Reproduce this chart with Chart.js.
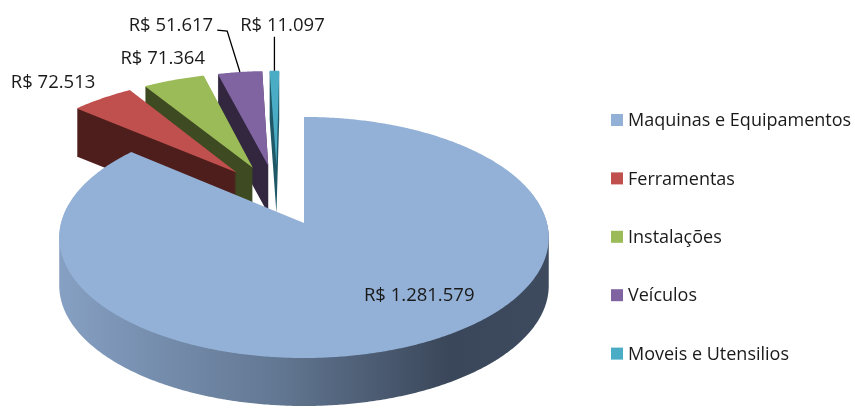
<!DOCTYPE html>
<html>
<head>
<meta charset="utf-8">
<script src="https://cdn.jsdelivr.net/npm/chart.js@4.4.0/dist/chart.umd.min.js"></script>
<style>
  html, body { margin: 0; padding: 0; background: #fff; }
  #chart { display: block; }
</style>
</head>
<body>
<canvas id="chart" width="855" height="408"></canvas>
<script>
const categories = ['Maquinas e Equipamentos', 'Ferramentas', 'Instalações', 'Veículos', 'Moveis e Utensilios'];
const values = [1281579, 72513, 71364, 51617, 11097];
const valueLabels = ['R$ 1.281.579', 'R$ 72.513', 'R$ 71.364', 'R$ 51.617', 'R$ 11.097'];
const topColors = ['#93B1D6', '#C0504D', '#9BBB59', '#8064A2', '#4BACC6'];
const sideColors = ['#5F7491', '#4E1E1D', '#3E4A22', '#32273F', '#1F5866'];

// 3D look: ellipse centre, radii, perspective, thickness and explosion
const view = { x0: 304, y0: 223, ax: 243, by: 118.8, persp: 0.12, depth: 48, explode: 0.27 };
// where each value label sits relative to the middle of its slice's outer edge
const labelShift = [[0, -48], [-49, -16], [-11, -21], [-69, -46], [8, -45]];
const leaders = [false, false, false, true, true];
const drawOrder = [4, 3, 2, 1, 0]; // back slices first

const labelFont = '18.5px "Open Sans"';
const legendFont = '18px "Open Sans"';
const textColor = '#1A1A1A';

let mainOff = { x: 0, y: 0 };

function project(u, v) {
    const du = u - mainOff.x;
    const dv = v - mainOff.y;
    const s = 1 / (1 - view.persp * dv);
    return [view.x0 + view.ax * du * s, view.y0 + view.by * dv * s];
}

function slicePoints(arc) {
    const mid = (arc.startAngle + arc.endAngle) / 2;
    const ox = Math.cos(mid) * view.explode;
    const oy = Math.sin(mid) * view.explode;
    const pts = [project(ox, oy)];
    const step = Math.PI / 360;
    const n = Math.max(2, Math.ceil((arc.endAngle - arc.startAngle) / step));
    for (let i = 0; i <= n; i++) {
        const a = arc.startAngle + (arc.endAngle - arc.startAngle) * i / n;
        pts.push(project(ox + Math.cos(a), oy + Math.sin(a)));
    }
    return pts;
}

function addPoly(ctx, pts, dy) {
    ctx.moveTo(pts[0][0], pts[0][1] + dy);
    for (let i = 1; i < pts.length; i++) ctx.lineTo(pts[i][0], pts[i][1] + dy);
    ctx.closePath();
}

const pie3d = {
    id: 'pie3d',
    beforeDatasetsDraw(chart) {
        const ctx = chart.ctx;
        const arcs = chart.getDatasetMeta(0).data;
        const m = (arcs[0].startAngle + arcs[0].endAngle) / 2;
        mainOff = { x: Math.cos(m) * view.explode, y: Math.sin(m) * view.explode };

        ctx.save();
        drawOrder.forEach(i => {
            const pts = slicePoints(arcs[i]);
            // side walls: union of the top face pushed down
            ctx.beginPath();
            for (let d = view.depth; d >= 1; d--) addPoly(ctx, pts, d);
            if (i === 0) {
                const xs = pts.map(p => p[0]);
                const g = ctx.createLinearGradient(Math.min(...xs), 0, Math.max(...xs), 0);
                g.addColorStop(0, '#86A0C3');
                g.addColorStop(0.45, '#627792');
                g.addColorStop(0.8, '#3A4659');
                g.addColorStop(1, '#3E4B5F');
                ctx.fillStyle = g;
            } else {
                ctx.fillStyle = sideColors[i];
            }
            ctx.fill();
            // top face
            ctx.beginPath();
            addPoly(ctx, pts, 0);
            ctx.fillStyle = topColors[i];
            ctx.fill();
        });
        ctx.restore();
        return false;
    },
    afterDraw(chart) {
        const ctx = chart.ctx;
        const arcs = chart.getDatasetMeta(0).data;
        ctx.save();
        ctx.font = labelFont;
        ctx.fillStyle = textColor;
        ctx.strokeStyle = '#000';
        ctx.lineWidth = 1.3;
        ctx.textBaseline = 'middle';
        ctx.textAlign = 'center';
        arcs.forEach((arc, i) => {
            const mid = (arc.startAngle + arc.endAngle) / 2;
            const ox = Math.cos(mid) * view.explode;
            const oy = Math.sin(mid) * view.explode;
            const anchor = project(ox + Math.cos(mid), oy + Math.sin(mid));
            const lx = anchor[0] + labelShift[i][0];
            const ly = anchor[1] + labelShift[i][1];
            ctx.fillText(valueLabels[i], lx, ly);
            if (leaders[i]) {
                const w = ctx.measureText(valueLabels[i]).width;
                ctx.beginPath();
                if (anchor[0] > lx - w / 2 && anchor[0] < lx + w / 2) {
                    ctx.moveTo(anchor[0], ly + 11);
                    ctx.lineTo(anchor[0], anchor[1]);
                } else {
                    const ex = lx + w / 2 + 4;
                    ctx.moveTo(ex, ly + 4);
                    ctx.lineTo(ex + 10, ly + 5);
                    ctx.lineTo(anchor[0], anchor[1]);
                }
                ctx.stroke();
            }
        });

        // legend
        ctx.font = legendFont;
        ctx.textAlign = 'left';
        categories.forEach((name, i) => {
            const y = 120 + i * 58.4;
            ctx.fillStyle = topColors[i];
            ctx.fillRect(611, y - 6, 12, 12);
            ctx.fillStyle = textColor;
            ctx.fillText(name, 628, y + 1);
        });
        ctx.restore();
    }
};

const chart = new Chart(document.getElementById('chart'), {
    type: 'pie',
    data: {
        labels: categories,
        datasets: [{ data: values, backgroundColor: topColors, borderWidth: 0 }]
    },
    options: {
        responsive: false,
        animation: false,
        layout: { padding: { right: 300 } },
        plugins: {
            legend: { display: false },
            tooltip: { enabled: false }
        }
    },
    plugins: [pie3d]
});
</script>
</body>
</html>
